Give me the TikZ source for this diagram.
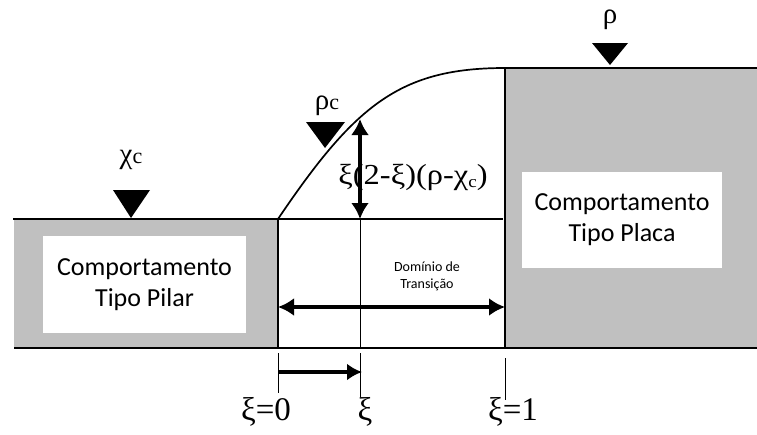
\documentclass[tikz,border=0pt]{standalone}
\usepackage{fontspec}
\setmainfont{Liberation Serif}
\newfontfamily\calib{Carlito}
\usetikzlibrary{arrows.meta}
\definecolor{grayfill}{HTML}{C0C0C0}
\begin{document}
\begin{tikzpicture}[x=1pt,y=-1pt,
  mainline/.style={line width=1.7pt},
  thinline/.style={line width=1pt},
  dblarrow/.style={line width=3.4pt,{Latex[length=16pt,width=18pt]}-{Latex[length=16pt,width=18pt]}},
  onearrow/.style={line width=3.2pt,-{Latex[length=15pt,width=17pt]}},
  tri/.style={fill=black},
  greek/.style={font=\fontsize{29}{31}\selectfont, inner sep=0pt},
  axislabel/.style={font=\fontsize{33}{35}\selectfont, inner sep=0pt},
  boxtext/.style={fill=white, align=center, inner sep=0pt, font=\calib\fontsize{26}{31}\selectfont},
  smalltext/.style={align=center, inner sep=0pt, font=\calib\fontsize{14}{17}\selectfont},
]
\useasboundingbox (0,0) rectangle (757,434);
% coordinates
\coordinate (L0) at (13,219);
\coordinate (T1) at (503,219);
\coordinate (B0) at (14,348);
\coordinate (B1) at (757,348);
\coordinate (X0t) at (278,219);
\coordinate (X0b) at (278,348);
\coordinate (X1t) at (505,68);
\coordinate (X1b) at (505,348);
\coordinate (R1) at (757,68);
\coordinate (Xit) at (360,219);
\coordinate (Xib) at (360,348);
\coordinate (Xic) at (360,119);
% gray regions
\fill[grayfill] (14,219) rectangle (278,347);
\fill[grayfill] (505,68) rectangle (757,347);
% boxes
\node[boxtext, minimum width=203pt, minimum height=97pt] (pilar) at (144.5,284.5) {Comportamento\\Tipo Pilar};
\node[boxtext, minimum width=200pt, minimum height=96pt] (placa) at (622,220) {Comportamento\\Tipo Placa};
% lines
\draw[mainline] (L0) -- (T1);
\draw[mainline] (B0) -- (B1);
\draw[mainline] (X0t) -- (X0b);
\draw[mainline] (X1t) -- (X1b);
\draw[mainline] (X1t) -- (R1);
\draw[mainline] (X0t) .. controls (355,105) and (400,68) .. (X1t);
\draw[thinline] (Xit) -- (Xib);
% ticks
\coordinate (tk0a) at (278,353); \coordinate (tk0b) at (278,393);
\coordinate (tkia) at (360,353); \coordinate (tkib) at (360,397);
\coordinate (tk1a) at (505,358); \coordinate (tk1b) at (505,400);
\draw[thinline] (tk0a) -- (tk0b);
\draw[thinline] (tkia) -- (tkib);
\draw[thinline] (tk1a) -- (tk1b);
% arrows
\draw[dblarrow] (Xit) -- (Xic);
\coordinate (ha) at (278,307); \coordinate (hb) at (505,307);
\draw[dblarrow] (ha) -- (hb);
\coordinate (sa) at (278,372); \coordinate (sb) at (362,372);
\draw[onearrow] (sa) -- (sb);
% triangles
\fill[tri] (113,190) -- (150,190) -- (131,218) -- cycle;
\fill[tri] (306,122) -- (345,122) -- (325,148) -- cycle;
\fill[tri] (592,43) -- (628,43) -- (610,65) -- cycle;
% labels
\node[greek] (chic) at (131,160) {χ{\fontsize{22}{22}\selectfont c}};
\node[greek] (rhoc) at (327,106) {ρ{\fontsize{22}{22}\selectfont c}};
\node[greek] (rho) at (610,20) {ρ};
\node[greek, font=\fontsize{29}{31}\selectfont] (formula) at (413,177) {\scalebox{1.12}[1]{ξ(2-ξ)(ρ-χ\raisebox{-3pt}{\fontsize{17}{17}\selectfont c})}};
\node[smalltext] (dom) at (427,276) {Domínio de\\Transição};
\node[axislabel] (xi0) at (266,412) {ξ=0};
\node[axislabel] (xi) at (365,412) {ξ};
\node[axislabel] (xi1) at (513,412) {ξ=1};
\end{tikzpicture}
\end{document}
